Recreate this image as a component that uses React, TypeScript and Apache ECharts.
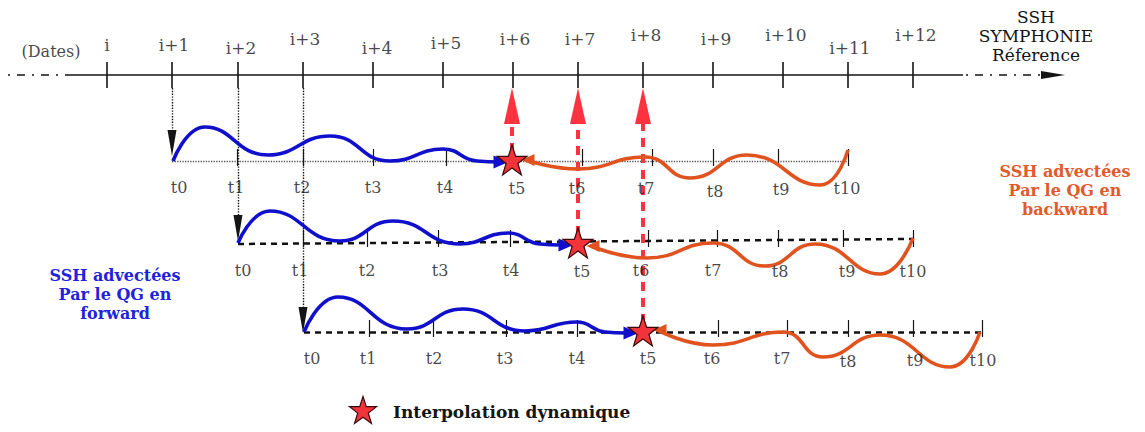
import React, { useEffect, useRef } from 'react';
import * as echarts from 'echarts';

const W = 1145;
const H = 432;
const SERIF = '"DejaVu Serif", "Liberation Serif", serif';

// ---- top date axis ----
const dateLabels = ['i', 'i+1', 'i+2', 'i+3', 'i+4', 'i+5', 'i+6', 'i+7', 'i+8', 'i+9', 'i+10', 'i+11', 'i+12'];
const dateTickX = [107, 172, 238, 303, 373, 443, 513, 578, 643, 713, 783, 848, 913];
const dateLabelX = [107, 174, 241, 305, 377, 446, 515, 580, 646, 716, 786, 850, 916];
const dateLabelY = [45, 45, 48, 39, 48, 43, 39, 39, 35, 39, 35, 48, 35];
const axisY = 75;

// ---- rows (t0..t10) ----
const tLabels = ['t0', 't1', 't2', 't3', 't4', 't5', 't6', 't7', 't8', 't9', 't10'];
const rowBaseY = [161, 242, 332];
const rowStartX = [172, 238, 304];
const rowEndX = [848, 913, 982];
const row1TickX = [237, 303, 373, 446, 582, 652, 713, 778, 848];
const row2TickX = [303, 367, 438, 510, 648, 717, 778, 843, 913];
const row3TickX = [369, 433, 506, 577, 718, 787, 848, 913, 982];
const row1LabelX = [179, 236, 302, 373, 445, 517, 577, 646, 715, 781, 847];
const row1LabelY = [187, 187, 187, 187, 187, 188, 188, 188, 191, 189, 188];
const row2LabelX = [243, 300, 367, 440, 511, 582, 641, 713, 780, 847, 913];
const row2LabelY = [270, 270, 270, 270, 270, 271, 270, 270, 271, 271, 271];
const row3LabelX = [312, 368, 434, 505, 577, 648, 712, 782, 848, 915, 983];
const row3LabelY = [358, 358, 358, 358, 358, 358, 358, 358, 361, 360, 360];

// ---- advected SSH curves (extrema) ----
const blueRow1 = [[173,161],[205,127],[268,155],[330,136],[390,161],[443,149],[477,161],[500,162]];
const orangeRow1 = [[526,160],[578,169],[645,157],[690,178],[747,155],[820,185],[848,150]];
const blueRow2 = [[238,243],[270,211],[340,241],[393,221],[460,244],[508,233],[540,244],[561,245]];
const orangeRow2 = [[591,246],[647,258],[713,243],[765,266],[815,244],[880,274],[913,238]];
const blueRow3 = [[304,332],[338,297],[407,329],[463,309],[525,331],[577,322],[605,332],[626,333]];
const orangeRow3 = [[657,330],[713,345],[783,332],[823,357],[880,335],[950,367],[980,332]];

// ---- interpolation points (stars) ----
const starX = [512, 578, 643];
const starY = [160, 243, 331];

const legendText = 'Interpolation dynamique';
const forwardText = 'SSH advectées\nPar le QG en\nforward';
const backwardText = 'SSH advectées\nPar le QG en\nbackward';
const refText = 'SSH\nSYMPHONIE\nRéference';

const STAR = 'path://M50,2 L61.5,36 L97,36 L68.5,57.5 L79.5,92 L50,71 L20.5,92 L31.5,57.5 L3,36 L38.5,36 Z';
const BLUE = '#1010cc';
const ORANGE = '#e0531f';
const RED = '#ff3340';
const INK = '#151515';

function seg(x1: number, y1: number, x2: number, y2: number) {
  return { coords: [[x1, y1], [x2, y2]] };
}

function curve(data: number[][], color: string) {
  return {
    type: 'line', data, smooth: 0.5, symbol: 'none', z: 5,
    lineStyle: { color, width: 3.6 }, silent: true,
  };
}

function labels(names: string[], xs: number[], ys: number[], size: number, extra: any = {}) {
  return {
    type: 'scatter', symbolSize: 1, itemStyle: { color: 'transparent' }, z: 8, silent: true,
    data: names.map((n, k) => ({ name: n, value: [xs[k], ys[k]] })),
    label: { show: true, position: 'inside', formatter: '{b}', color: INK, fontSize: size, fontFamily: SERIF, ...extra },
  };
}

function tri(points: number[][], rotate: number, size: number[], color: string, z = 6) {
  return {
    type: 'scatter', symbol: 'triangle', symbolSize: size, symbolRotate: rotate, z, silent: true,
    itemStyle: { color, opacity: 1 }, data: points,
  };
}

export default function App() {
  const ref = useRef<HTMLDivElement>(null);
  useEffect(() => {
    if (!ref.current) return;
    const chart = echarts.init(ref.current, undefined, { renderer: 'svg' });

    const rowsTicks = [row1TickX, row2TickX, row3TickX];
    const tickSegs: any[] = [];
    rowsTicks.forEach((xs, r) => xs.forEach((x) => tickSegs.push(seg(x, rowBaseY[r] - 12, x, rowBaseY[r] + 5))));
    const dateSegs = dateTickX.map((x) => seg(x, axisY - 13, x, axisY + 13));

    const series: any[] = [
      // main date axis
      { type: 'lines', coordinateSystem: 'cartesian2d', silent: true, z: 2,
        lineStyle: { color: INK, width: 1.6, opacity: 1 },
        data: [seg(70, axisY, 963, axisY), ...dateSegs] },
      { type: 'lines', coordinateSystem: 'cartesian2d', silent: true, z: 2,
        lineStyle: { color: INK, width: 1.6, opacity: 1, type: [2, 7, 8, 7] },
        data: [seg(8, axisY, 70, axisY), seg(966, axisY, 1042, axisY)] },
      tri([[1053, axisY]], -90, [8, 24], INK),
      // black dotted drops
      { type: 'lines', coordinateSystem: 'cartesian2d', silent: true, z: 2,
        lineStyle: { color: INK, width: 1.4, opacity: 1, type: 'dotted' },
        data: [seg(172, axisY + 13, 172, 135), seg(238, axisY + 13, 238, 215), seg(303, axisY + 13, 303, 308)] },
      tri([[172, 143], [238, 228], [303, 320]], 180, [9, 26], INK, 4),
      // row baselines
      { type: 'lines', coordinateSystem: 'cartesian2d', silent: true, z: 2,
        lineStyle: { color: '#555', width: 1.3, opacity: 1, type: 'dotted' },
        data: [seg(rowStartX[0], rowBaseY[0], rowEndX[0], rowBaseY[0])] },
      { type: 'lines', coordinateSystem: 'cartesian2d', silent: true, z: 2,
        lineStyle: { color: '#111', width: 2.5, opacity: 1, type: [6, 5] },
        data: [seg(rowStartX[1], rowBaseY[1] + 2, rowEndX[1], rowBaseY[1] - 3), seg(rowStartX[2], rowBaseY[2], rowEndX[2], rowBaseY[2])] },
      { type: 'lines', coordinateSystem: 'cartesian2d', silent: true, z: 3,
        lineStyle: { color: INK, width: 1.2, opacity: 1 }, data: tickSegs },
      // red dashed interpolation arrows
      { type: 'lines', coordinateSystem: 'cartesian2d', silent: true, z: 3,
        lineStyle: { color: RED, width: 4, opacity: 1, type: [9, 7] },
        data: starX.map((x, k) => seg(x, starY[k] - 8, x, 122)) },
      tri(starX.map((x) => [x, 106]), 0, [16, 36], RED, 6),
      // curves
      curve(blueRow1, BLUE), curve(blueRow2, BLUE), curve(blueRow3, BLUE),
      curve(orangeRow1, ORANGE), curve(orangeRow2, ORANGE), curve(orangeRow3, ORANGE),
      tri([[501, 162], [566, 245], [631, 333]], -90, [13, 15], BLUE, 6),
      tri([[528, 160], [593, 246], [660, 330]], 90, [12, 13], ORANGE, 6),
      // stars
      { type: 'scatter', symbol: STAR, symbolSize: 30, z: 9, silent: true,
        itemStyle: { color: '#f2333a', borderColor: '#3a0a0a', borderWidth: 1.2, opacity: 1 },
        data: starX.map((x, k) => [x, starY[k]]) },
      // legend star
      { type: 'scatter', symbol: STAR, symbolSize: 27, z: 9, silent: true,
        itemStyle: { color: '#f2333a', borderColor: '#3a0a0a', borderWidth: 1.2, opacity: 1 },
        data: [[363, 410]] },
      // texts
      labels(dateLabels, dateLabelX, dateLabelY, 17),
      labels(['(Dates)'], [51], [51], 16),
      labels(tLabels, row1LabelX, row1LabelY, 16),
      labels(tLabels, row2LabelX, row2LabelY, 16),
      labels(tLabels, row3LabelX, row3LabelY, 16),
    ];

    chart.setOption({
      animation: false,
      backgroundColor: '#ffffff',
      grid: { left: 0, right: 0, top: 0, bottom: 0, containLabel: false },
      xAxis: { type: 'value', min: 0, max: W, show: false },
      yAxis: { type: 'value', min: 0, max: H, inverse: true, show: false },
      series,
      graphic: [
        { type: 'text', x: 1036, y: 36, z: 10, silent: true,
          style: { text: refText, fill: INK, font: `17px ${SERIF}`, align: 'center', verticalAlign: 'middle', lineHeight: 19 } },
        { type: 'text', x: 115, y: 294, z: 10, silent: true,
          style: { text: forwardText, fill: '#2222dc', font: `bold 16px ${SERIF}`, align: 'center', verticalAlign: 'middle', lineHeight: 19 } },
        { type: 'text', x: 1065, y: 190, z: 10, silent: true,
          style: { text: backwardText, fill: '#e05a2c', font: `bold 16px ${SERIF}`, align: 'center', verticalAlign: 'middle', lineHeight: 19 } },
        { type: 'text', x: 393, y: 412, z: 10, silent: true,
          style: { text: legendText, fill: INK, font: `bold 17px ${SERIF}`, align: 'left', verticalAlign: 'middle' } },
      ],
    });
    return () => chart.dispose();
  }, []);
  return <div ref={ref} style={{ position: 'fixed', left: 0, top: 0, width: W, height: H, background: '#fff' }} />;
}
